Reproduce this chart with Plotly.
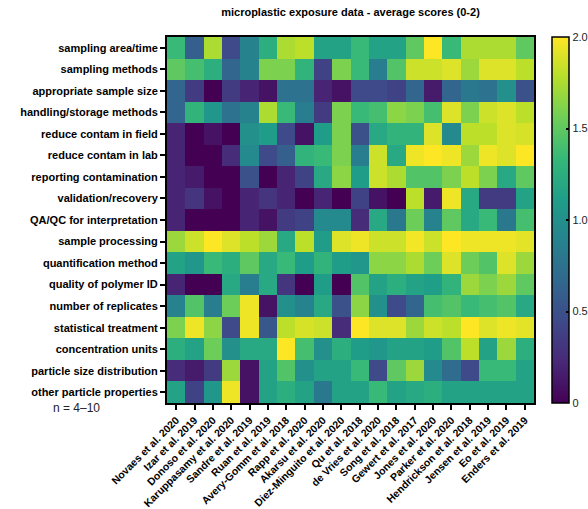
import plotly.graph_objects as go

studies = ["Novaes et al. 2020", "Izar et al. 2019", "Donoso et al. 2020", "Karuppasamy et al. 2020",
           "Sandre et al. 2019", "Ruan et al. 2019", "Avery-Gomm et al. 2018", "Rapp et al. 2020",
           "Akarsu et al. 2020", "Diez-Minguito et al. 2020", "Qu et al. 2018", "de Vries et al. 2020",
           "Song et al. 2018", "Gewert et al. 2017", "Jones et al. 2020", "Parker et al. 2020",
           "Hendrickson et al. 2018", "Jensen et al. 2019", "Eo et al. 2019", "Enders et al. 2019"]

criteria = ["sampling area/time", "sampling methods", "appropriate sample size", "handling/storage methods",
            "reduce contam in field", "reduce contam in lab", "reporting contamination", "validation/recovery",
            "QA/QC for interpretation", "sample processing", "quantification method", "quality of polymer ID",
            "number of replicates", "statistical treatment", "concentration units", "particle size distribution",
            "other particle properties"]

sampling_area_time = [1.35, 0.6, 1.75, 0.45, 0.9, 1.25, 1.75, 1.8, 1.15, 1.15, 1.35, 1.15, 1.15, 1.5, 2.0, 1.35, 1.75, 1.75, 1.75, 1.5]
sampling_methods = [1.5, 1.4, 1.25, 0.65, 0.9, 1.6, 1.6, 1.3, 0.4, 1.6, 1.35, 0.85, 1.45, 1.85, 1.85, 1.9, 1.7, 1.9, 1.9, 1.8]
appropriate_sample_size = [0.65, 0.35, 0.0, 0.35, 0.2, 0.1, 0.75, 0.75, 0.2, 0.1, 0.45, 0.45, 0.4, 0.65, 0.15, 0.65, 0.8, 0.75, 1.0, 0.5]
handling_storage = [0.65, 1.3, 1.05, 0.75, 0.9, 1.75, 1.35, 0.85, 0.35, 1.6, 1.35, 1.4, 1.65, 1.6, 1.4, 1.9, 1.6, 1.85, 1.9, 1.8]
reduce_contam_field = [0.2, 0.0, 0.1, 0.0, 1.0, 1.1, 0.45, 0.1, 1.1, 1.6, 0.5, 1.2, 1.3, 1.3, 1.9, 0.95, 1.8, 1.8, 1.9, 1.88]
reduce_contam_lab = [0.2, 0.0, 0.0, 0.25, 0.95, 0.45, 0.6, 1.3, 1.35, 1.6, 0.85, 1.85, 1.2, 1.95, 2.0, 1.95, 1.7, 1.95, 1.9, 2.0]
reporting_contamination = [0.2, 0.15, 0.0, 0.0, 0.5, 0.0, 0.2, 0.4, 1.2, 1.65, 1.1, 1.85, 1.75, 1.45, 1.45, 1.6, 1.8, 1.6, 1.2, 1.5]
validation_recovery = [0.2, 0.3, 0.1, 0.0, 0.2, 0.3, 0.2, 0.0, 0.2, 0.0, 0.4, 0.1, 0.0, 1.8, 0.15, 1.95, 1.2, 0.35, 0.35, 1.15]
qaqc_interpretation = [0.2, 0.0, 0.0, 0.0, 0.2, 0.1, 0.35, 0.4, 0.95, 0.95, 0.25, 1.2, 0.8, 1.55, 0.9, 1.5, 1.2, 1.35, 0.8, 1.4]
sample_processing = [1.7, 1.85, 2.0, 1.9, 1.8, 1.7, 1.2, 1.8, 1.1, 1.9, 1.95, 1.85, 1.85, 1.97, 1.85, 2.0, 1.95, 1.95, 1.95, 1.92]
quantification_method = [1.15, 1.05, 1.35, 1.25, 1.5, 1.2, 1.35, 1.1, 1.3, 1.1, 1.05, 1.65, 1.65, 1.75, 1.55, 1.9, 1.55, 1.45, 1.9, 1.7]
quality_polymer_id = [0.2, 0.0, 0.0, 1.2, 0.85, 1.2, 0.3, 0.0, 1.1, 0.0, 1.45, 1.15, 1.25, 1.15, 1.12, 1.3, 1.7, 1.6, 1.7, 1.5]
number_replicates = [0.9, 1.45, 0.85, 1.55, 1.95, 0.1, 1.0, 0.9, 1.2, 0.5, 1.65, 1.0, 0.45, 0.65, 1.4, 1.45, 1.35, 1.4, 1.45, 1.2]
statistical_treatment = [1.6, 1.95, 1.65, 0.45, 1.95, 0.55, 1.8, 1.88, 1.85, 0.25, 2.0, 1.9, 1.9, 1.7, 1.85, 1.8, 2.0, 1.9, 1.95, 1.92]
concentration_units = [1.25, 1.15, 1.55, 1.0, 1.2, 1.2, 2.0, 1.4, 1.0, 1.25, 1.1, 1.05, 1.15, 1.15, 1.1, 1.45, 1.8, 1.15, 1.7, 1.25]
particle_size_distribution = [0.25, 0.15, 0.35, 1.7, 0.1, 1.15, 1.45, 1.0, 1.15, 1.15, 1.35, 0.45, 1.5, 1.7, 0.95, 0.7, 0.45, 1.35, 1.35, 1.15]
other_particle_properties = [1.15, 0.4, 1.05, 1.95, 0.1, 1.15, 1.25, 1.15, 0.8, 1.15, 1.15, 1.35, 1.15, 1.2, 1.25, 1.15, 1.15, 1.15, 1.15, 1.15]

z = [sampling_area_time, sampling_methods, appropriate_sample_size, handling_storage,
     reduce_contam_field, reduce_contam_lab, reporting_contamination, validation_recovery,
     qaqc_interpretation, sample_processing, quantification_method, quality_polymer_id,
     number_replicates, statistical_treatment, concentration_units, particle_size_distribution,
     other_particle_properties]

colorbar_ticks = [0, 0.5, 1.0, 1.5, 2.0]
colorbar_ticktext = ["0", "0.5", "1.0", "1.5", "2.0"]

FONT = "Liberation Sans, Arial, sans-serif"

fig = go.Figure(go.Heatmap(
    z=z, x=studies, y=criteria, colorscale="Viridis", zmin=0, zmax=2,
    colorbar=dict(
        x=1.049, xanchor="left", xref="paper", y=0.5, yanchor="middle",
        len=1.0, lenmode="fraction", thickness=17,
        outlinecolor="black", outlinewidth=1.5,
        tickvals=colorbar_ticks, ticktext=colorbar_ticktext,
        ticks="inside", ticklen=3, tickcolor="black", tickwidth=1.5,
        tickfont=dict(family=FONT, size=11, color="#222"),
        xpad=0, ypad=0,
    ),
))

fig.update_layout(
    width=588, height=509,
    margin=dict(l=167, r=54, t=37, b=106, autoexpand=False),
    paper_bgcolor="white", plot_bgcolor="white",
    font=dict(family=FONT, color="black"),
    title=dict(text="microplastic exposure data - average scores (0-2)",
               x=0.5, xref="paper", xanchor="center", y=1 - 12 / 509, yanchor="middle",
               font=dict(family=FONT, size=11, color="black", weight="bold")),
    annotations=[dict(text="n = 4\u201310", xref="paper", yref="paper", x=-0.316, y=-0.014,
                      xanchor="left", yanchor="middle", showarrow=False,
                      font=dict(family=FONT, size=12, color="#222"))],
)

fig.update_xaxes(
    showline=True, linewidth=2, linecolor="black", mirror=True,
    ticks="outside", ticklen=5, tickwidth=1.5, tickcolor="black",
    tickangle=-45, tickfont=dict(family=FONT, size=10.5, color="black", weight="bold"),
    showgrid=False, zeroline=False,
)
fig.update_yaxes(
    showline=True, linewidth=2, linecolor="black", mirror=True,
    ticks="outside", ticklen=5, tickwidth=1.5, tickcolor="black",
    autorange="reversed",
    tickfont=dict(family=FONT, size=11, color="black", weight="bold"),
    showgrid=False, zeroline=False,
)

fig.write_html("out.html", config={"displayModeBar": False},
               post_script="document.body.style.margin='0';")
